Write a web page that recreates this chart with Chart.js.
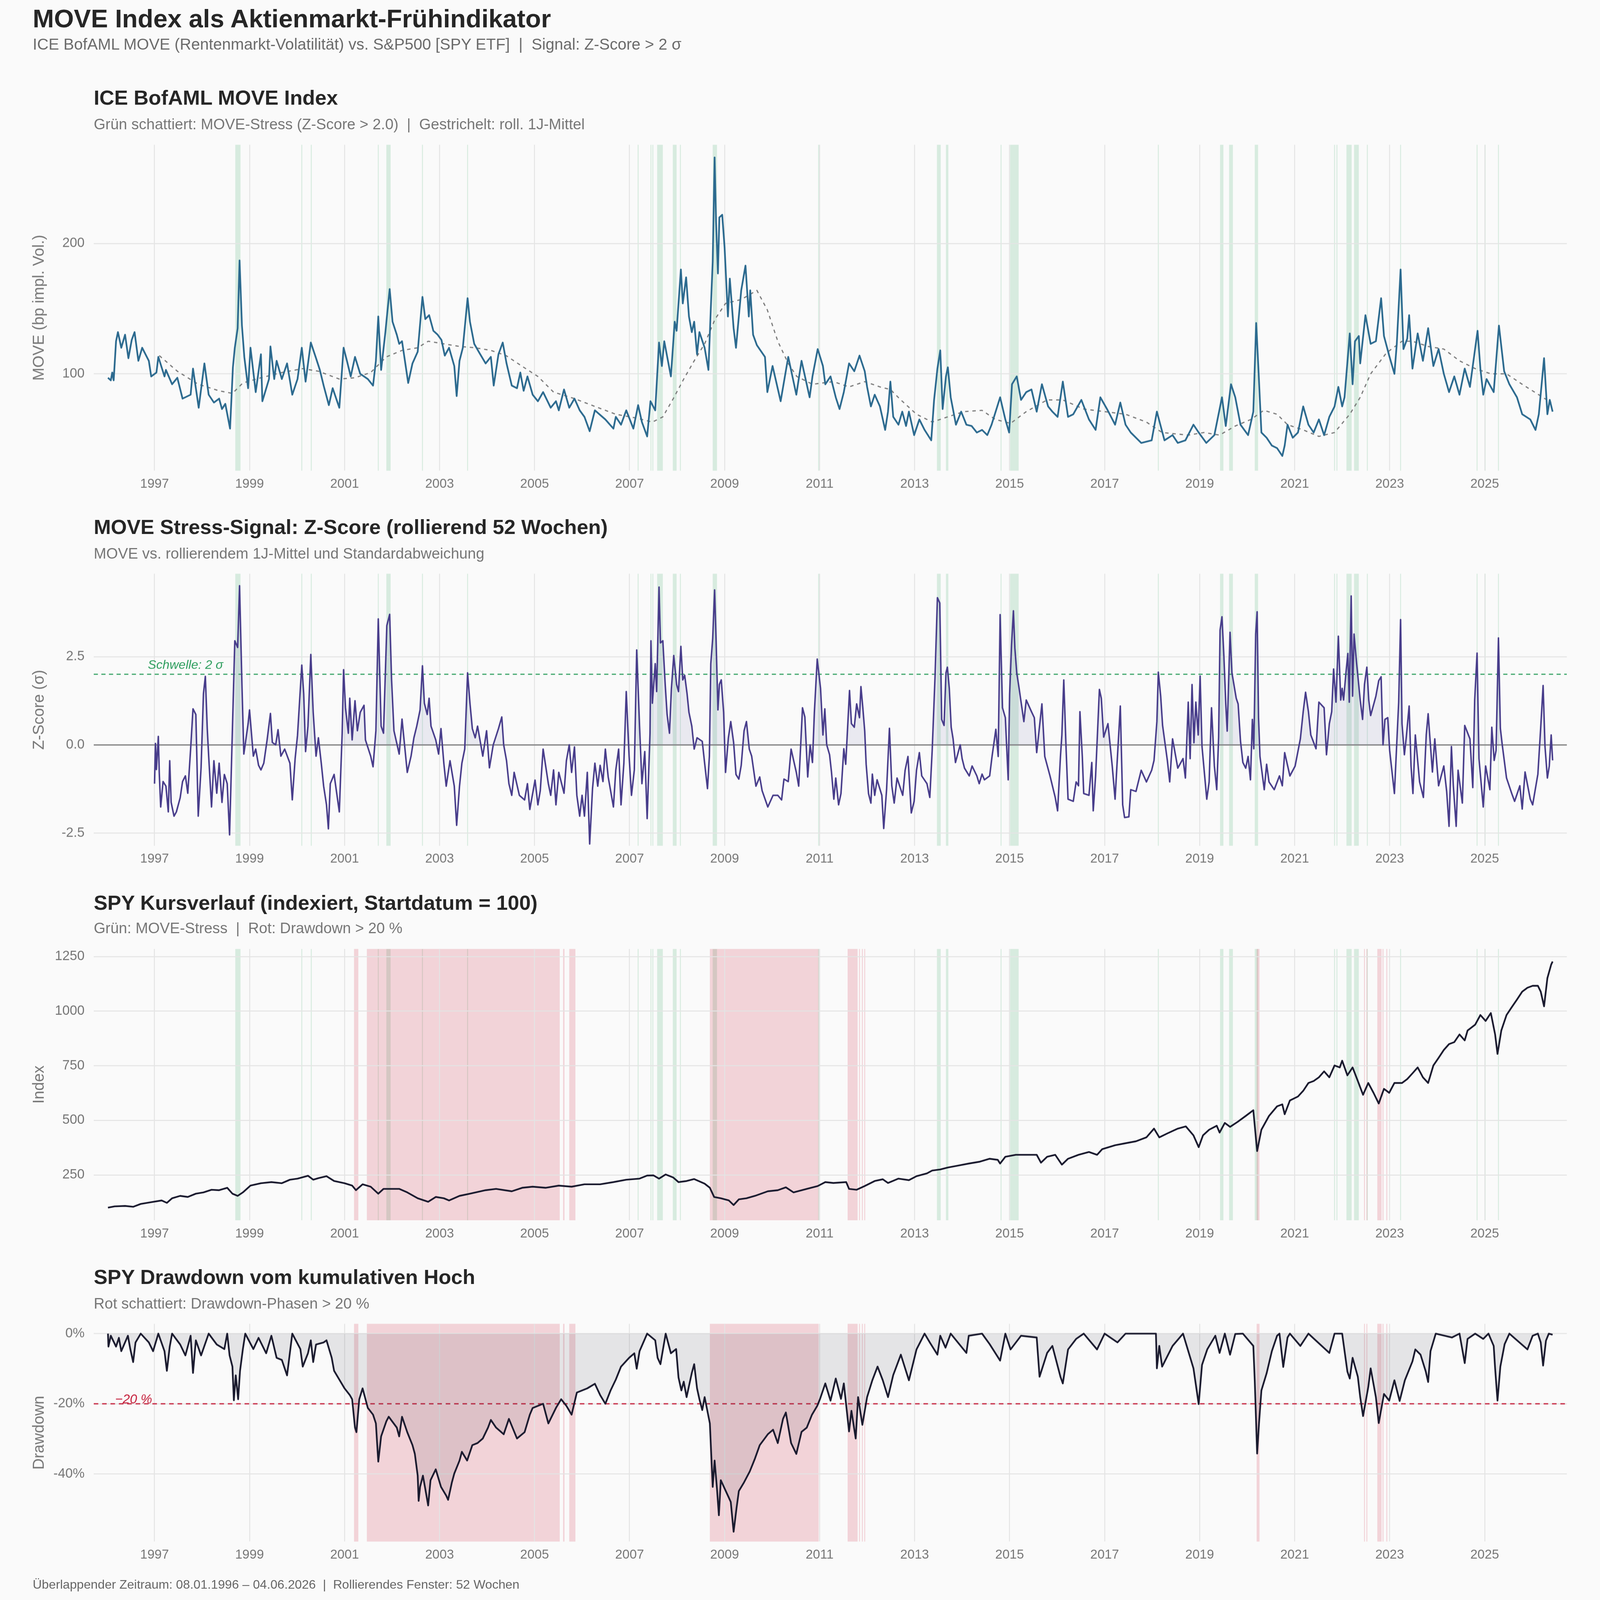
<!DOCTYPE html>
<html>
<head>
<meta charset="utf-8">
<script src="https://cdn.jsdelivr.net/npm/chart.js@4.4.1/dist/chart.umd.min.js"></script>
<style>
  html, body { margin: 0; padding: 0; background: #fafafa; overflow: hidden; }
  #page { width: 4200px; height: 4200px; position: relative; transform-origin: 0 0;
          font-family: "Liberation Sans", Arial, sans-serif; }
  .txt { position: absolute; white-space: pre; line-height: 1; }
  .h1 { font-size: 67px; font-weight: bold; color: #262626; }
  .h1s { font-size: 41.5px; color: #6b6b6b; }
  .h2 { font-size: 54px; font-weight: bold; color: #262626; }
  .h2s { font-size: 39.5px; color: #777; }
  .foot { font-size: 33px; color: #666; }
  canvas { position: absolute; left: 0; }
</style>
</head>
<body>
<div id="page">
<div class="txt h1" style="left:86px;top:15px">MOVE Index als Aktienmarkt-Frühindikator</div>
<div class="txt h1s" style="left:86px;top:95px">ICE BofAML MOVE (Rentenmarkt-Volatilität) vs. S&amp;P500 [SPY ETF]  |  Signal: Z-Score &gt; 2 σ</div>

<div class="txt h2" style="left:246px;top:229px">ICE BofAML MOVE Index</div>
<div class="txt h2s" style="left:246px;top:306px">Grün schattiert: MOVE-Stress (Z-Score &gt; 2.0)  |  Gestrichelt: roll. 1J-Mittel</div>
<canvas id="c1" width="4200" height="945" style="top:360px;width:4200px;height:945px"></canvas>

<div class="txt h2" style="left:246px;top:1356px">MOVE Stress-Signal: Z-Score (rollierend 52 Wochen)</div>
<div class="txt h2s" style="left:246px;top:1433px">MOVE vs. rollierendem 1J-Mittel und Standardabweichung</div>
<canvas id="c2" width="4200" height="804" style="top:1486px;width:4200px;height:804px"></canvas>

<div class="txt h2" style="left:246px;top:2342px">SPY Kursverlauf (indexiert, Startdatum = 100)</div>
<div class="txt h2s" style="left:246px;top:2417px">Grün: MOVE-Stress  |  Rot: Drawdown &gt; 20 %</div>
<canvas id="c3" width="4200" height="802" style="top:2471px;width:4200px;height:802px"></canvas>

<div class="txt h2" style="left:246px;top:3324px">SPY Drawdown vom kumulativen Hoch</div>
<div class="txt h2s" style="left:246px;top:3402px">Rot schattiert: Drawdown-Phasen &gt; 20 %</div>
<canvas id="c4" width="4200" height="661" style="top:3455px;width:4200px;height:661px"></canvas>

<div class="txt foot" style="left:86px;top:4142px">Überlappender Zeitraum: 08.01.1996 – 04.06.2026  |  Rollierendes Fenster: 52 Wochen</div>
</div>

<script>
// ---- data (year, value) ----
const moveWeekly = [
  [1996.02,97],[1996.08,95],[1996.11,101],[1996.14,95],[1996.19,125],[1996.23,132],[1996.30,120],[1996.38,130],
  [1996.45,112],[1996.52,126],[1996.58,132],[1996.66,110],[1996.74,120],[1996.88,110],[1996.93,98],[1997.04,101],
  [1997.08,113],[1997.21,98],[1997.24,103],[1997.37,92],[1997.48,97],[1997.59,81],[1997.76,84],[1997.81,104],
  [1997.93,74],[1998.05,108],[1998.14,84],[1998.25,78],[1998.36,81],[1998.42,73],[1998.49,77],[1998.59,58],
  [1998.65,105],[1998.69,120],[1998.75,135],[1998.79,187],[1998.84,137],[1998.89,113],[1998.97,89],[1999.02,120],
  [1999.13,86],[1999.24,115],[1999.27,79],[1999.41,96],[1999.44,121],[1999.52,96],[1999.57,110],[1999.68,96],
  [1999.79,108],[1999.90,84],[2000.01,96],[2000.10,120],[2000.18,94],[2000.29,124],[2000.40,112],[2000.48,103],
  [2000.56,91],[2000.67,76],[2000.75,89],[2000.89,74],[2000.98,120],[2001.05,110],[2001.13,98],[2001.22,113],
  [2001.33,100],[2001.49,96],[2001.60,91],[2001.66,110],[2001.71,144],[2001.77,103],[2001.86,132],[2001.90,147],
  [2001.95,165],[2002.01,140],[2002.10,130],[2002.15,123],[2002.21,125],[2002.34,93],[2002.43,108],[2002.54,117],
  [2002.64,159],[2002.70,142],[2002.78,145],[2002.87,133],[2002.96,130],[2003.04,126],[2003.11,114],[2003.20,120],
  [2003.31,106],[2003.36,83],[2003.42,110],[2003.49,120],[2003.59,158],[2003.64,140],[2003.73,123],[2003.84,116],
  [2003.97,108],[2004.08,113],[2004.14,91],[2004.24,115],[2004.33,124],[2004.41,108],[2004.52,91],[2004.63,89],
  [2004.70,101],[2004.77,87],[2004.85,98],[2004.96,84],[2005.07,79],[2005.18,86],[2005.34,74],[2005.45,79],
  [2005.51,72],[2005.62,88],[2005.73,74],[2005.84,81],[2005.95,72],[2006.05,67],[2006.16,56],[2006.27,72],
  [2006.49,65],[2006.66,58],[2006.71,67],[2006.82,61],[2006.93,72],[2007.08,58],[2007.18,76],[2007.26,63],
  [2007.37,52],[2007.44,79],[2007.54,72],[2007.62,124],[2007.68,106],[2007.73,125],[2007.87,98],[2007.95,140],
  [2007.99,133],[2008.08,180],[2008.12,154],[2008.19,174],[2008.25,144],[2008.31,132],[2008.36,140],[2008.42,115],
  [2008.47,132],[2008.58,120],[2008.66,103],[2008.71,150],[2008.75,186],[2008.79,266],[2008.82,217],[2008.86,177],
  [2008.89,220],[2008.95,222],[2009.00,197],[2009.07,144],[2009.11,173],[2009.19,135],[2009.24,120],[2009.35,164],
  [2009.44,183],[2009.51,144],[2009.54,164],[2009.60,130],[2009.68,122],[2009.85,113],[2009.90,86],[2010.01,106],
  [2010.18,79],[2010.34,113],[2010.51,84],[2010.62,110],[2010.79,82],[2010.85,98],[2010.96,119],[2011.07,106],
  [2011.12,92],[2011.23,98],[2011.34,82],[2011.42,73],[2011.51,86],[2011.62,108],[2011.73,102],[2011.84,114],
  [2011.95,102],[2012.00,90],[2012.08,75],[2012.16,84],[2012.27,75],[2012.38,57],[2012.44,71],[2012.49,94],
  [2012.55,67],[2012.66,61],[2012.74,71],[2012.82,60],[2012.88,71],[2012.99,53],[2013.10,65],[2013.21,57],
  [2013.35,49],[2013.41,80],[2013.48,104],[2013.54,118],[2013.59,73],[2013.66,98],[2013.70,105],[2013.76,82],
  [2013.87,61],[2013.98,71],[2014.09,61],[2014.20,60],[2014.31,55],[2014.42,57],[2014.53,53],[2014.62,61],
  [2014.80,82],[2014.91,65],[2014.99,55],[2015.05,92],[2015.15,98],[2015.24,80],[2015.35,86],[2015.46,88],
  [2015.57,71],[2015.68,92],[2015.81,75],[2015.90,71],[2016.01,67],[2016.12,94],[2016.23,67],[2016.34,69],
  [2016.51,80],[2016.67,65],[2016.81,57],[2016.91,82],[2017.05,73],[2017.22,61],[2017.33,78],[2017.44,61],
  [2017.55,55],[2017.77,47],[2017.99,49],[2018.10,71],[2018.26,49],[2018.43,53],[2018.54,47],[2018.70,49],
  [2018.87,61],[2018.98,55],[2019.14,47],[2019.31,53],[2019.47,82],[2019.55,60],[2019.66,92],[2019.75,82],
  [2019.86,61],[2020.02,53],[2020.13,71],[2020.19,139],[2020.24,102],[2020.30,55],[2020.41,51],[2020.52,45],
  [2020.63,43],[2020.74,37],[2020.79,45],[2020.85,61],[2020.96,51],[2021.07,55],[2021.18,75],[2021.29,61],
  [2021.40,55],[2021.51,65],[2021.62,53],[2021.73,67],[2021.84,75],[2021.92,90],[2022.00,75],[2022.05,82],
  [2022.16,131],[2022.22,92],[2022.27,125],[2022.35,129],[2022.38,108],[2022.49,145],[2022.60,123],[2022.71,125],
  [2022.82,158],[2022.88,129],[2022.99,114],[2023.10,100],[2023.15,123],[2023.23,180],[2023.29,119],[2023.37,127],
  [2023.41,145],[2023.48,104],[2023.59,131],[2023.70,110],[2023.81,135],[2023.92,106],[2024.03,119],[2024.14,100],
  [2024.25,86],[2024.36,98],[2024.47,84],[2024.58,104],[2024.69,90],[2024.85,133],[2024.91,104],[2024.97,84],
  [2025.04,96],[2025.19,86],[2025.30,137],[2025.41,102],[2025.52,92],[2025.68,82],[2025.79,69],[2025.96,65],
  [2026.07,57],[2026.14,69],[2026.25,112],[2026.32,69],[2026.37,80],[2026.43,71]
];

const moveMean1y = [
  [1997.10,114],[1997.48,102],[1997.92,92],[1998.36,87],[1998.64,85],[1998.86,93],[1999.24,97],[1999.68,101],
  [2000.12,104],[2000.45,102],[2000.89,96],[2001.22,97],[2001.55,101],[2001.88,113],[2002.21,118],[2002.54,120],
  [2002.76,125],[2003.09,123],[2003.42,121],[2003.75,120],[2004.08,118],[2004.40,114],[2004.73,106],[2005.07,98],
  [2005.40,86],[2005.84,81],[2006.27,75],[2006.71,69],[2007.15,66],[2007.48,63],[2007.70,67],[2007.92,81],
  [2008.14,96],[2008.36,110],[2008.58,123],[2008.80,142],[2009.02,154],[2009.35,157],[2009.68,164],[2009.90,149],
  [2010.12,125],[2010.34,108],[2010.52,98],[2010.85,92],[2011.29,94],[2011.62,90],[2011.95,94],[2012.27,90],
  [2012.49,88],[2012.71,80],[2013.04,69],[2013.37,63],[2013.70,67],[2014.03,71],[2014.42,72],[2014.70,65],
  [2015.02,62],[2015.35,71],[2015.79,80],[2016.12,80],[2016.56,73],[2017.00,71],[2017.44,69],[2017.88,63],
  [2018.21,55],[2018.76,53],[2019.09,55],[2019.42,53],[2019.75,60],[2020.08,65],[2020.35,72],[2020.63,69],
  [2020.85,61],[2021.18,57],[2021.51,52],[2021.84,55],[2022.16,69],[2022.38,82],[2022.60,100],[2022.93,116],
  [2023.26,125],[2023.48,125],[2023.81,121],[2024.14,119],[2024.47,110],[2024.80,104],[2025.13,100],[2025.46,100],
  [2025.79,92],[2026.18,83],[2026.40,78]
];

const zScore = [
  [1997.00,-1.1],[1997.02,0.04],[1997.04,-0.7],[1997.08,0.24],[1997.10,-0.8],[1997.13,-1.76],[1997.18,-1.04],
  [1997.24,-1.17],[1997.29,-1.9],[1997.32,-0.45],[1997.35,-1.63],[1997.41,-2.02],[1997.46,-1.9],[1997.54,-1.5],
  [1997.59,-1.04],[1997.65,-0.88],[1997.70,-1.37],[1997.76,-0.12],[1997.81,1.02],[1997.87,0.86],[1997.92,-2.02],
  [1997.98,-0.65],[1998.03,1.45],[1998.07,1.94],[1998.11,0.46],[1998.14,-0.32],[1998.20,-1.76],[1998.25,-0.45],
  [1998.31,-1.37],[1998.36,-0.52],[1998.42,-1.63],[1998.47,-0.84],[1998.53,-1.1],[1998.58,-2.55],[1998.64,0.46],
  [1998.69,2.95],[1998.75,2.76],[1998.79,4.51],[1998.84,1.71],[1998.88,-0.26],[1998.97,0.6],[1999.00,0.99],
  [1999.08,-0.32],[1999.13,-0.12],[1999.19,-0.58],[1999.24,-0.71],[1999.30,-0.52],[1999.37,0.14],[1999.44,0.89],
  [1999.48,0.07],[1999.55,0],[1999.60,0.43],[1999.66,-0.32],[1999.74,-0.12],[1999.85,-0.52],[1999.90,-1.56],
  [1999.96,-0.39],[2000.01,0.27],[2000.10,2.26],[2000.14,1.45],[2000.18,-0.19],[2000.23,0.53],[2000.29,2.56],
  [2000.34,0.92],[2000.40,-0.32],[2000.45,0.2],[2000.51,-0.52],[2000.56,-1.17],[2000.62,-1.7],[2000.66,-2.38],
  [2000.70,-1.1],[2000.78,-0.84],[2000.89,-1.9],[2000.95,0.33],[2000.98,2.13],[2001.02,1.05],[2001.08,0.33],
  [2001.11,1.32],[2001.16,0.14],[2001.22,1.25],[2001.27,0.4],[2001.33,0.92],[2001.41,1.12],[2001.44,0.14],
  [2001.55,-0.32],[2001.60,-0.62],[2001.66,0.4],[2001.71,3.57],[2001.77,0.53],[2001.82,0.33],[2001.89,3.38],
  [2001.95,3.7],[2001.99,1.84],[2002.04,0.4],[2002.15,-0.26],[2002.21,0.73],[2002.32,-0.78],[2002.40,-0.32],
  [2002.46,0.2],[2002.52,0.53],[2002.59,0.99],[2002.64,2.24],[2002.68,1.18],[2002.74,0.86],[2002.78,1.32],
  [2002.82,0.53],[2002.92,0.14],[2002.98,-0.26],[2003.03,0.46],[2003.09,-0.52],[2003.14,-1.17],[2003.22,-0.45],
  [2003.31,-1.17],[2003.36,-2.28],[2003.42,-1.17],[2003.47,-0.52],[2003.53,-0.12],[2003.59,2.04],[2003.64,1.18],
  [2003.69,0.46],[2003.75,0.2],[2003.80,0.53],[2003.91,-0.32],[2003.99,0.4],[2004.05,-0.65],[2004.13,0],
  [2004.24,0.46],[2004.31,0.79],[2004.35,0],[2004.41,-0.45],[2004.46,-1.1],[2004.52,-1.43],[2004.57,-0.78],
  [2004.68,-1.43],[2004.79,-1.56],[2004.85,-1.1],[2004.90,-1.83],[2005.01,-1.0],[2005.07,-1.7],[2005.12,-1.3],
  [2005.18,-0.12],[2005.29,-1.1],[2005.34,-1.43],[2005.40,-0.71],[2005.45,-1.7],[2005.51,-0.78],[2005.62,-1.37],
  [2005.67,-0.45],[2005.73,0],[2005.78,-0.78],[2005.84,-0.06],[2005.89,-1.43],[2005.95,-2.02],[2006.00,-1.43],
  [2006.05,-2.02],[2006.11,-0.78],[2006.16,-2.81],[2006.22,-1.24],[2006.27,-0.52],[2006.33,-1.17],[2006.38,-0.58],
  [2006.44,-1.04],[2006.49,-0.12],[2006.55,-0.91],[2006.66,-1.76],[2006.71,-0.71],[2006.77,-0.12],[2006.82,-1.7],
  [2006.88,-0.52],[2006.93,1.51],[2006.99,-0.32],[2007.04,-1.43],[2007.10,-0.71],[2007.15,2.69],[2007.21,0.53],
  [2007.26,-1.1],[2007.32,-0.19],[2007.37,-2.09],[2007.43,0.33],[2007.45,2.95],[2007.48,1.18],[2007.54,2.3],
  [2007.57,1.51],[2007.62,4.47],[2007.65,2.89],[2007.70,2.95],[2007.75,1.71],[2007.79,0.86],[2007.84,0.33],
  [2007.88,1.58],[2007.93,2.53],[2007.99,1.71],[2008.03,1.51],[2008.08,2.79],[2008.12,1.84],[2008.16,1.97],
  [2008.21,1.45],[2008.25,0.92],[2008.31,0.53],[2008.36,-0.12],[2008.42,0.2],[2008.53,0.1],[2008.58,-0.52],
  [2008.64,-1.24],[2008.68,-0.32],[2008.71,2.3],[2008.75,3.02],[2008.79,4.39],[2008.82,3.02],[2008.86,0.99],
  [2008.89,1.71],[2008.93,1.84],[2008.98,0.92],[2009.02,-0.78],[2009.08,0.2],[2009.13,0.66],[2009.19,0.07],
  [2009.24,-0.84],[2009.30,-0.97],[2009.35,-0.58],[2009.41,0.4],[2009.46,0.66],[2009.52,-0.12],[2009.57,-0.32],
  [2009.66,-1.17],[2009.74,-0.91],[2009.79,-1.3],[2009.91,-1.76],[2010.02,-1.43],[2010.12,-1.43],[2010.20,-1.56],
  [2010.25,-0.97],[2010.34,-1.04],[2010.40,-0.12],[2010.51,-0.78],[2010.56,-1.17],[2010.64,1.05],[2010.69,0.79],
  [2010.75,-0.91],[2010.80,0],[2010.85,-0.5],[2010.89,0.92],[2010.95,2.43],[2011.02,1.6],[2011.07,0.28],
  [2011.11,1.02],[2011.15,0],[2011.21,-0.28],[2011.25,-0.77],[2011.30,-1.54],[2011.34,-0.94],[2011.40,-1.7],
  [2011.45,-1.38],[2011.51,-0.11],[2011.55,-0.55],[2011.63,1.54],[2011.67,0.6],[2011.73,0.5],[2011.78,1.16],
  [2011.84,0.77],[2011.87,1.65],[2011.91,1.05],[2011.95,0.39],[2011.98,-0.55],[2012.03,-1.38],[2012.08,-1.65],
  [2012.11,-0.83],[2012.16,-1.43],[2012.21,-0.99],[2012.31,-1.43],[2012.35,-2.37],[2012.41,-1.27],[2012.47,0.47],
  [2012.52,-1.16],[2012.57,-1.65],[2012.63,-0.94],[2012.75,-1.43],[2012.80,-0.72],[2012.86,-0.33],[2012.93,-1.93],
  [2012.99,-1.6],[2013.04,-0.72],[2013.10,-0.22],[2013.15,-0.88],[2013.26,-1.1],[2013.32,-1.49],[2013.37,-0.16],
  [2013.43,1.93],[2013.48,4.17],[2013.53,4.02],[2013.57,0.72],[2013.62,0.55],[2013.66,2.04],[2013.69,2.2],
  [2013.73,1.6],[2013.77,0.5],[2013.81,0.17],[2013.86,-0.5],[2013.96,0],[2014.00,-0.39],[2014.05,-0.66],
  [2014.15,-0.88],[2014.21,-0.6],[2014.31,-0.88],[2014.36,-1.1],[2014.42,-0.83],[2014.47,-0.99],[2014.58,-0.88],
  [2014.63,-0.33],[2014.71,0.44],[2014.76,-0.33],[2014.80,3.69],[2014.85,1.05],[2014.91,0.77],[2014.97,-0.99],
  [2015.00,1.43],[2015.04,2.81],[2015.08,3.8],[2015.11,2.75],[2015.15,2.04],[2015.20,1.6],[2015.30,0.66],
  [2015.35,1.27],[2015.46,0.94],[2015.52,0.77],[2015.57,-0.22],[2015.68,1.16],[2015.74,-0.33],[2015.85,-0.88],
  [2015.96,-1.49],[2016.01,-1.87],[2016.07,-0.33],[2016.10,0.28],[2016.14,1.84],[2016.19,-0.16],[2016.23,-1.54],
  [2016.34,-1.6],[2016.40,-1.05],[2016.45,-1.16],[2016.48,0.94],[2016.53,-0.33],[2016.56,-1.38],[2016.67,-1.43],
  [2016.73,-0.5],[2016.76,-1.87],[2016.81,-0.88],[2016.89,1.57],[2016.93,1.32],[2016.98,0.22],[2017.07,0.6],
  [2017.16,-0.6],[2017.22,-1.54],[2017.27,-0.33],[2017.33,1.1],[2017.38,-1.7],[2017.42,-2.06],[2017.51,-2.04],
  [2017.55,-1.27],[2017.66,-1.32],[2017.77,-0.72],[2017.88,-1.05],[2017.99,-0.72],[2018.04,-0.44],[2018.10,0.66],
  [2018.13,2.06],[2018.18,1.38],[2018.22,0.55],[2018.32,-0.44],[2018.37,-1.05],[2018.43,0.17],[2018.54,-0.66],
  [2018.65,-0.39],[2018.70,-0.94],[2018.76,1.21],[2018.80,-0.39],[2018.84,1.71],[2018.88,0.06],[2018.92,1.21],
  [2018.97,0.28],[2019.01,1.95],[2019.05,-0.05],[2019.15,-1.54],[2019.20,-1.05],[2019.25,1.05],[2019.31,-0.6],
  [2019.36,-1.27],[2019.40,0.22],[2019.43,3.25],[2019.47,3.63],[2019.51,2.53],[2019.55,1.16],[2019.58,0.39],
  [2019.64,3.19],[2019.68,2.04],[2019.77,1.32],[2019.81,1.16],[2019.86,0.11],[2019.91,-0.5],[2019.97,-0.66],
  [2020.02,-0.33],[2020.07,-0.99],[2020.11,0.72],[2020.14,-0.11],[2020.18,3.14],[2020.21,3.77],[2020.24,0.77],
  [2020.27,-0.33],[2020.36,-1.27],[2020.41,-0.55],[2020.46,-1.05],[2020.57,-1.27],[2020.68,-0.88],[2020.74,-1.16],
  [2020.79,-0.22],[2020.90,-0.88],[2021.01,-0.6],[2021.12,0.17],[2021.18,0.94],[2021.23,1.49],[2021.29,0.94],
  [2021.34,0.28],[2021.45,-0.11],[2021.51,1.21],[2021.62,1.05],[2021.67,-0.28],[2021.73,0.6],[2021.78,0.94],
  [2021.82,2.15],[2021.87,1.21],[2021.90,2.31],[2021.92,3.08],[2021.97,1.27],[2022.00,1.6],[2022.03,1.27],
  [2022.08,2.04],[2022.12,2.59],[2022.15,1.21],[2022.19,4.22],[2022.22,1.38],[2022.25,3.14],[2022.30,2.37],
  [2022.34,1.82],[2022.38,1.27],[2022.43,0.72],[2022.47,1.71],[2022.52,2.2],[2022.56,1.27],[2022.60,0.83],
  [2022.71,1.38],[2022.77,1.82],[2022.82,1.93],[2022.86,0],[2022.90,0.72],[2022.96,0.77],[2023.00,-0.16],
  [2023.10,-1.38],[2023.15,0.06],[2023.19,1.21],[2023.23,3.55],[2023.26,0.6],[2023.31,-0.28],[2023.35,0.22],
  [2023.41,1.1],[2023.45,-0.6],[2023.49,-1.38],[2023.54,0.28],[2023.63,-1.05],[2023.71,-1.49],[2023.77,0.28],
  [2023.81,0.88],[2023.90,-0.77],[2023.95,0.17],[2024.03,-1.16],[2024.14,-0.6],[2024.20,-1.32],[2024.25,-2.31],
  [2024.30,-0.05],[2024.34,-1.16],[2024.40,-2.31],[2024.44,-0.72],[2024.53,-1.65],[2024.58,0.55],[2024.69,0.17],
  [2024.75,-1.21],[2024.79,1.27],[2024.84,2.6],[2024.88,-0.39],[2024.97,-1.76],[2025.02,-0.6],[2025.11,-1.27],
  [2025.15,0.5],[2025.20,-0.44],[2025.24,-0.16],[2025.29,3.03],[2025.33,0.47],[2025.37,0],[2025.46,-0.94],
  [2025.57,-1.38],[2025.63,-1.6],[2025.74,-1.16],[2025.79,-1.82],[2025.85,-0.77],[2025.96,-1.54],[2026.01,-1.7],
  [2026.12,-0.83],[2026.18,0.5],[2026.23,1.68],[2026.27,-0.05],[2026.32,-0.94],[2026.36,-0.6],[2026.40,0.28],
  [2026.43,-0.44]
];

const spyIndex = [
  [1996.02,100],[1996.16,106],[1996.38,108],[1996.55,104],[1996.71,117],[1996.93,125],[1997.15,133],[1997.26,122],
  [1997.37,143],[1997.54,154],[1997.70,149],[1997.87,164],[1998.03,170],[1998.20,182],[1998.36,180],[1998.53,191],
  [1998.64,164],[1998.75,154],[1998.86,170],[1999.02,201],[1999.24,212],[1999.46,217],[1999.68,212],[1999.85,228],
  [2000.01,233],[2000.23,246],[2000.34,228],[2000.45,235],[2000.62,244],[2000.78,222],[2001.00,212],[2001.16,201],
  [2001.24,180],[2001.38,207],[2001.55,196],[2001.71,164],[2001.82,186],[2002.15,186],[2002.32,170],[2002.54,143],
  [2002.76,127],[2002.92,149],[2003.09,143],[2003.20,133],[2003.42,154],[2003.64,164],[2003.97,180],[2004.19,186],
  [2004.52,175],[2004.74,191],[2004.96,196],[2005.23,191],[2005.51,201],[2005.78,196],[2006.05,207],[2006.38,207],
  [2006.66,217],[2006.93,228],[2007.21,233],[2007.37,247],[2007.50,248],[2007.62,233],[2007.76,252],[2007.92,238],
  [2008.03,217],[2008.20,222],[2008.36,231],[2008.58,210],[2008.69,191],[2008.78,149],[2008.92,143],[2009.09,133],
  [2009.19,112],[2009.30,138],[2009.46,143],[2009.64,154],[2009.91,175],[2010.12,180],[2010.29,193],[2010.45,170],
  [2010.73,186],[2010.96,199],[2011.12,217],[2011.29,213],[2011.56,217],[2011.62,186],[2011.78,182],[2011.95,199],
  [2012.16,222],[2012.33,230],[2012.44,213],[2012.66,233],[2012.88,226],[2013.04,244],[2013.26,257],[2013.37,270],
  [2013.54,275],[2013.70,284],[2013.92,293],[2014.14,302],[2014.36,310],[2014.58,324],[2014.75,319],[2014.80,302],
  [2014.91,333],[2015.13,342],[2015.35,342],[2015.57,342],[2015.66,306],[2015.79,333],[2015.96,342],[2016.10,297],
  [2016.23,324],[2016.45,342],[2016.67,355],[2016.84,342],[2016.95,368],[2017.22,386],[2017.44,395],[2017.66,404],
  [2017.88,422],[2018.04,462],[2018.15,422],[2018.32,440],[2018.54,462],[2018.71,472],[2018.87,431],[2018.98,377],
  [2019.07,431],[2019.20,457],[2019.36,475],[2019.42,444],[2019.53,488],[2019.64,470],[2019.80,493],[2019.97,520],
  [2020.13,546],[2020.21,359],[2020.30,457],[2020.46,520],[2020.63,564],[2020.74,573],[2020.79,528],[2020.90,591],
  [2021.07,609],[2021.18,635],[2021.29,671],[2021.40,680],[2021.51,697],[2021.62,724],[2021.73,697],[2021.84,751],
  [2021.95,742],[2022.00,773],[2022.11,706],[2022.22,742],[2022.33,680],[2022.44,617],[2022.55,671],[2022.66,626],
  [2022.77,577],[2022.88,644],[2022.99,626],[2023.10,671],[2023.26,671],[2023.37,689],[2023.48,715],[2023.59,742],
  [2023.70,697],[2023.81,671],[2023.92,751],[2024.03,786],[2024.14,822],[2024.25,849],[2024.36,858],[2024.47,893],
  [2024.58,866],[2024.64,911],[2024.80,938],[2024.91,982],[2025.02,955],[2025.13,991],[2025.22,893],[2025.27,804],
  [2025.35,911],[2025.46,982],[2025.57,1018],[2025.68,1053],[2025.79,1089],[2025.90,1107],[2026.01,1116],
  [2026.12,1116],[2026.18,1089],[2026.25,1022],[2026.32,1151],[2026.40,1213],[2026.43,1227]
];

const spyDrawdown = [
  [1996.02,0],[1996.03,-3.7],[1996.08,-0.6],[1996.19,-3.7],[1996.25,-1.2],[1996.30,-5.0],[1996.44,-0.6],
  [1996.49,-4.4],[1996.55,-8.1],[1996.60,-2.5],[1996.71,0],[1996.88,-2.5],[1996.97,-5.0],[1997.08,0],
  [1997.21,-5.0],[1997.26,-10.6],[1997.32,-3.7],[1997.37,0],[1997.54,-3.1],[1997.65,-6.2],[1997.76,-0.6],
  [1997.81,-11.2],[1997.87,-1.9],[1997.98,-6.2],[1998.14,0],[1998.31,-3.1],[1998.47,-4.4],[1998.53,0],
  [1998.58,-6.2],[1998.64,-9.4],[1998.67,-19],[1998.71,-11.9],[1998.76,-18.7],[1998.80,-10.6],[1998.86,-4.4],
  [1998.91,0],[1999.08,-4.4],[1999.19,-1.2],[1999.35,-5.6],[1999.46,-0.6],[1999.57,-6.9],[1999.68,-7.5],
  [1999.79,-11.9],[1999.90,0],[2000.07,-4.4],[2000.12,-9.4],[2000.23,-5.6],[2000.29,-1.9],[2000.34,-8.1],
  [2000.40,-3.1],[2000.56,-2.5],[2000.62,-1.9],[2000.73,-6.9],[2000.78,-10.6],[2000.89,-13.1],[2001.00,-15.6],
  [2001.11,-17.5],[2001.16,-18.7],[2001.22,-26.8],[2001.25,-28.1],[2001.31,-18.7],[2001.38,-15.6],[2001.49,-21.2],
  [2001.60,-23.1],[2001.66,-25.6],[2001.71,-36.5],[2001.77,-29.3],[2001.88,-25.0],[2001.93,-23.7],[2002.10,-26.8],
  [2002.15,-29.3],[2002.21,-23.7],[2002.32,-28.1],[2002.43,-31.8],[2002.48,-34.3],[2002.54,-40.5],[2002.56,-47.7],
  [2002.59,-43.7],[2002.65,-40.5],[2002.70,-44.3],[2002.76,-49.0],[2002.81,-41.8],[2002.92,-38.7],[2003.03,-43.7],
  [2003.14,-46.2],[2003.18,-47.4],[2003.26,-42.4],[2003.31,-39.9],[2003.42,-36.2],[2003.47,-33.7],[2003.58,-36.2],
  [2003.69,-31.8],[2003.80,-31.2],[2003.91,-29.9],[2004.02,-26.8],[2004.08,-24.6],[2004.19,-26.8],[2004.35,-28.7],
  [2004.46,-24.3],[2004.63,-29.9],[2004.79,-28.1],[2004.90,-23.1],[2004.96,-21.2],[2005.18,-20.0],[2005.29,-25.6],
  [2005.45,-21.2],[2005.56,-18.7],[2005.67,-20.6],[2005.78,-23.1],[2005.89,-16.8],[2006.11,-15.6],[2006.27,-14.3],
  [2006.38,-17.5],[2006.49,-20.0],[2006.60,-16.2],[2006.71,-13.1],[2006.82,-9.4],[2006.99,-6.9],[2007.10,-5.6],
  [2007.15,-10.0],[2007.21,-5.0],[2007.37,0],[2007.54,-1.9],[2007.59,-6.9],[2007.65,-8.7],[2007.76,0],
  [2007.87,-5.6],[2007.98,-4.4],[2008.03,-12.5],[2008.09,-16.2],[2008.14,-13.7],[2008.20,-18.1],[2008.31,-11.2],
  [2008.36,-8.7],[2008.42,-15.6],[2008.47,-18.7],[2008.53,-21.8],[2008.58,-18.1],[2008.69,-25.6],[2008.75,-43.7],
  [2008.79,-36.2],[2008.84,-44.3],[2008.88,-51.8],[2008.92,-41.8],[2009.09,-46.8],[2009.13,-48.0],[2009.19,-56.5],
  [2009.25,-49.9],[2009.30,-44.9],[2009.41,-42.4],[2009.53,-39.3],[2009.64,-35.6],[2009.74,-31.8],[2009.91,-28.7],
  [2010.02,-27.4],[2010.12,-31.2],[2010.23,-24.3],[2010.29,-22.5],[2010.40,-31.2],[2010.51,-34.3],[2010.62,-28.0],
  [2010.73,-26.8],[2010.84,-23.1],[2010.95,-20.6],[2011.01,-18.6],[2011.12,-14.2],[2011.23,-19.1],[2011.34,-12.8],
  [2011.45,-18.6],[2011.51,-14.2],[2011.62,-27.9],[2011.67,-22],[2011.76,-29.9],[2011.81,-18.1],[2011.90,-26],
  [2012.00,-18.1],[2012.11,-13.3],[2012.22,-9.4],[2012.33,-13.3],[2012.44,-18.1],[2012.55,-11.8],[2012.71,-6.0],
  [2012.88,-13.3],[2013.04,-4.5],[2013.21,0],[2013.32,-2.5],[2013.48,-6.0],[2013.54,-0.6],[2013.65,-4.0],
  [2013.76,0],[2014.09,-5.5],[2014.14,-0.6],[2014.42,0],[2014.58,-3.0],[2014.80,-7.7],[2014.91,0],[2015.02,-4.5],
  [2015.24,-0.6],[2015.57,-1.1],[2015.63,-12.3],[2015.79,-5.5],[2015.90,-3.5],[2016.07,-12.3],[2016.12,-14.2],
  [2016.23,-4.5],[2016.40,-1.5],[2016.56,0],[2016.84,-4.5],[2017.00,0],[2017.27,-2.5],[2017.44,0],[2018.08,0],
  [2018.10,-9.9],[2018.15,-3.5],[2018.21,-9.4],[2018.43,-3.5],[2018.65,0],[2018.87,-9.9],[2018.98,-20.1],
  [2019.05,-8.9],[2019.16,-4.5],[2019.33,-0.6],[2019.42,-5.5],[2019.53,0],[2019.64,-6.0],[2019.75,-0.1],
  [2019.91,0],[2020.13,-3.5],[2020.16,-13.3],[2020.21,-34.2],[2020.25,-25.5],[2020.30,-16.2],[2020.41,-11.3],
  [2020.52,-5],[2020.63,-0.6],[2020.68,0],[2020.76,-9.5],[2020.85,-1.1],[2020.90,0],[2021.12,-3.5],[2021.29,0],
  [2021.73,-5.5],[2021.84,0],[2022.00,0],[2022.11,-10.8],[2022.16,-12.8],[2022.22,-6.9],[2022.33,-12.3],
  [2022.38,-18.1],[2022.44,-23.5],[2022.55,-15.2],[2022.60,-9.9],[2022.71,-18.1],[2022.77,-25.5],[2022.88,-17.2],
  [2022.99,-19.1],[2023.10,-13.3],[2023.21,-19.2],[2023.32,-13.3],[2023.48,-7.9],[2023.54,-4.5],[2023.65,-6],
  [2023.76,-10.8],[2023.81,-13.8],[2023.86,-5],[2023.97,0],[2024.31,-1.1],[2024.47,0],[2024.58,-8.4],
  [2024.64,-1.5],[2024.80,0],[2024.97,-1.5],[2025.08,0],[2025.19,-3.5],[2025.22,-9.9],[2025.27,-19.1],
  [2025.33,-9.4],[2025.42,-3.0],[2025.52,0],[2025.90,-4.5],[2026.01,-0.6],[2026.12,0],[2026.18,-2.5],
  [2026.23,-9.1],[2026.29,-2.0],[2026.35,0],[2026.43,-0.3]
];

// shaded phases (start year, end year)
const stressSpans = [
  [1998.70,1998.81],[2000.09,2000.11],[2000.29,2000.31],[2001.70,2001.72],[2001.88,2001.97],[2002.63,2002.65],
  [2003.58,2003.60],[2007.17,2007.19],[2007.44,2007.46],[2007.48,2007.50],[2007.58,2007.70],[2007.91,2007.99],
  [2008.06,2008.08],[2008.75,2008.84],[2010.97,2010.99],[2013.47,2013.55],[2013.66,2013.71],[2014.81,2014.83],
  [2015.01,2015.19],[2018.12,2018.14],[2019.43,2019.50],[2019.62,2019.70],[2020.16,2020.23],[2021.83,2021.85],
  [2021.88,2021.90],[2022.09,2022.20],[2022.25,2022.35],[2022.52,2022.54],[2023.22,2023.24],[2024.83,2024.85],
  [2025.00,2025.02],[2025.28,2025.30]
];
const drawdownSpans = [
  [2001.20,2001.29],[2001.47,2005.53],[2005.60,2005.63],[2005.73,2005.86],[2008.69,2010.98],[2011.59,2011.80],
  [2011.83,2011.85],[2011.89,2011.91],[2011.94,2011.96],[2020.20,2020.26],[2022.46,2022.48],[2022.51,2022.53],
  [2022.74,2022.83],[2022.85,2022.87],[2022.93,2022.95]
];

// ticks
const yearTicks = [1997,1999,2001,2003,2005,2007,2009,2011,2013,2015,2017,2019,2021,2023,2025];
const moveTicks = [100, 200];
const zTicks = [-2.5, 0, 2.5];
const zTickLabels = ['-2.5', '0.0', '2.5'];
const spyTicks = [250, 500, 750, 1000, 1250];
const ddTicks = [-40, -20, 0];
const ddTickLabels = ['-40%', '-20%', '0%'];
const zThreshold = 2;
const ddThreshold = -20;

const X_MIN = 1995.72, X_MAX = 2026.73;

// the 4200px layout is scaled to the real viewport; canvases render at that final pixel size
const S = Math.min(window.innerWidth, window.innerHeight) / 4200;
document.getElementById('page').style.transform = 'scale(' + S + ')';

Chart.defaults.font.family = "'Liberation Sans', Arial, sans-serif";
Chart.defaults.animation = false;

const GREEN = 'rgba(40,160,90,0.16)';
const RED = 'rgba(205,45,70,0.19)';
const TICK = '#777777';

const spanPlugin = {
  id: 'spans',
  beforeDraw(chart, args, opts) {
    const { ctx, chartArea: a, scales: { x } } = chart;
    ctx.save();
    (opts.sets || []).forEach(set => {
      ctx.fillStyle = set.color;
      set.data.forEach(([s, e]) => {
        const x0 = x.getPixelForValue(s), x1 = x.getPixelForValue(e);
        ctx.fillRect(x0, a.top, Math.max(x1 - x0, 2.5), a.bottom - a.top);
      });
    });
    ctx.restore();
  }
};

const notePlugin = {
  id: 'note',
  afterDatasetsDraw(chart, args, o) {
    if (!o.text) return;
    const { ctx, scales: { x, y } } = chart;
    ctx.save();
    ctx.font = o.font;
    ctx.fillStyle = o.color;
    ctx.textBaseline = 'alphabetic';
    ctx.fillText(o.text, x.getPixelForValue(o.x), y.getPixelForValue(o.y) - o.dy);
    ctx.restore();
  }
};

const pts = arr => arr.map(p => ({ x: p[0], y: p[1] }));

function xAxis() {
  return {
    type: 'linear', min: X_MIN, max: X_MAX,
    afterBuildTicks: s => { s.ticks = yearTicks.map(v => ({ value: v })); },
    afterFit: s => { s.height = 70; s.paddingLeft = 0; s.paddingRight = 0; },
    ticks: { autoSkip: false, maxRotation: 0, padding: 15, color: TICK, font: { size: 34 },
             callback: v => String(v) },
    grid: { color: '#e4e4e4', lineWidth: 2.5, drawTicks: false },
    border: { display: false }
  };
}

function yAxis(min, max, ticks, labels, title, gridColor) {
  return {
    type: 'linear', min, max,
    afterBuildTicks: s => { s.ticks = ticks.map(v => ({ value: v })); },
    afterFit: s => { s.width = 246; s.paddingTop = 0; s.paddingBottom = 0; },
    ticks: { padding: 24, color: TICK, font: { size: 35 },
             callback: (v, i) => labels ? labels[i] : String(v) },
    grid: { color: gridColor || '#e4e4e4', lineWidth: ctx => (ctx.tick && ctx.tick.value === 0 && gridColor) ? 3.5 : 2.5,
            drawTicks: false },
    border: { display: false },
    title: { display: true, text: title, color: TICK, font: { size: 41 }, padding: { top: 79, bottom: 0 } }
  };
}

function baseOptions(yOpts, spans, note) {
  return {
    responsive: false, maintainAspectRatio: false, devicePixelRatio: S, animation: false,
    layout: { padding: { left: 0, right: 87, top: 20, bottom: 0 } },
    plugins: { legend: { display: false }, tooltip: { enabled: false },
               spans: { sets: spans }, note: note || {} },
    elements: { point: { radius: 0 }, line: { tension: 0, borderJoinStyle: 'round' } },
    scales: { x: xAxis(), y: yOpts }
  };
}

// Panel 1: MOVE
new Chart(document.getElementById('c1'), {
  type: 'line',
  data: { datasets: [
    { data: pts(moveWeekly), borderColor: '#2c6a8f', borderWidth: 4.5, fill: false },
    { data: pts(moveMean1y), borderColor: '#777777', borderWidth: 3, borderDash: [9, 10], fill: false }
  ] },
  options: baseOptions(yAxis(25.7, 275.7, moveTicks, null, 'MOVE (bp impl. Vol.)'),
                       [{ color: GREEN, data: stressSpans }]),
  plugins: [spanPlugin, notePlugin]
});

// Panel 2: Z-Score
new Chart(document.getElementById('c2'), {
  type: 'line',
  data: { datasets: [
    { data: pts(zScore), borderColor: '#483d8b', borderWidth: 4,
      fill: { target: { value: 0 }, above: 'rgba(72,61,139,0.09)', below: 'rgba(0,0,0,0)' } },
    { data: [{ x: X_MIN, y: zThreshold }, { x: X_MAX, y: zThreshold }], borderColor: '#2e9e5e',
      borderWidth: 3, borderDash: [11, 9], fill: false }
  ] },
  options: baseOptions(
    yAxis(-2.86, 4.85, zTicks, zTickLabels, 'Z-Score (σ)',
          ctx => (ctx.tick && ctx.tick.value === 0) ? '#8a8a8a' : '#e4e4e4'),
    [{ color: GREEN, data: stressSpans }],
    { text: 'Schwelle: 2 σ', x: 1996.86, y: zThreshold, dy: 14, color: '#2e9e5e', font: 'italic 33px "Liberation Sans", Arial, sans-serif' }),
  plugins: [spanPlugin, notePlugin]
});

// Panel 3: SPY
new Chart(document.getElementById('c3'), {
  type: 'line',
  data: { datasets: [
    { data: pts(spyIndex), borderColor: '#1b1b2f', borderWidth: 4.5, fill: false }
  ] },
  options: baseOptions(yAxis(42.4, 1284.5, spyTicks, null, 'Index'),
                       [{ color: GREEN, data: stressSpans }, { color: RED, data: drawdownSpans }]),
  plugins: [spanPlugin, notePlugin]
});

// Panel 4: Drawdown
new Chart(document.getElementById('c4'), {
  type: 'line',
  data: { datasets: [
    { data: pts(spyDrawdown), borderColor: '#1b1b2f', borderWidth: 4.5,
      fill: { target: { value: 0 }, above: 'rgba(0,0,0,0)', below: 'rgba(40,40,60,0.1)' } },
    { data: [{ x: X_MIN, y: ddThreshold }, { x: X_MAX, y: ddThreshold }], borderColor: '#c41e3a',
      borderWidth: 3, borderDash: [12, 10], fill: false }
  ] },
  options: baseOptions(yAxis(-59.3, 2.8, ddTicks, ddTickLabels, 'Drawdown'),
                       [{ color: RED, data: drawdownSpans }],
                       { text: '\u221220 %', x: 1996.17, y: ddThreshold, dy: 1, color: '#c41e3a', font: 'italic 34px "Liberation Sans", Arial, sans-serif' }),
  plugins: [spanPlugin, notePlugin]
});
</script>
</body>
</html>
